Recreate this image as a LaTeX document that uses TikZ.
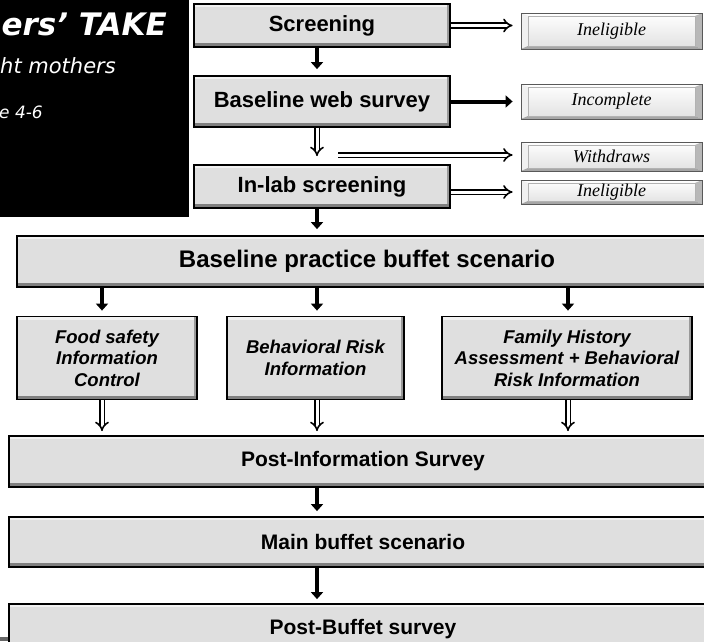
\documentclass[tikz,border=0pt]{standalone}
\usepackage{fontspec}
\setmainfont{Liberation Sans}
\newfontfamily\outfont{Liberation Serif}
\newfontfamily\slidefont{DejaVu Sans}
\usetikzlibrary{arrows.meta}

\definecolor{boxgray}{RGB}{223,223,223}

\tikzset{
    stage/.style={draw=black, line width=1.8pt, fill=boxgray, inner sep=0pt, align=center,
        font=\bfseries\fontsize{21}{25}\selectfont,
        path picture={
            \fill[white!55!boxgray] (path picture bounding box.north west) rectangle ([yshift=-3pt]path picture bounding box.north east);
            \fill[black!40] ([xshift=-3.5pt]path picture bounding box.south east) rectangle (path picture bounding box.north east);
            \fill[black!50] (path picture bounding box.south west) rectangle ([yshift=4pt]path picture bounding box.south east);
        }},
    topstage/.style={stage, minimum width=256pt, font=\bfseries\fontsize{22}{26}\selectfont},
    arm/.style={stage, minimum height=83pt, font=\bfseries\itshape\fontsize{18.5}{21.5}\selectfont},
    outcome/.style={draw=black!65, line width=0.8pt, top color=white, bottom color=black!12,
        minimum width=181pt, inner sep=0pt, font=\outfont\itshape\fontsize{18}{20}\selectfont,
        path picture={
            \fill[black!6] (path picture bounding box.north west) -- ([shift={(7pt,-3pt)}]path picture bounding box.north west)
                -- ([shift={(7pt,3pt)}]path picture bounding box.south west) -- (path picture bounding box.south west) -- cycle;
            \fill[black!28] (path picture bounding box.north east) -- ([shift={(-7pt,-3pt)}]path picture bounding box.north east)
                -- ([shift={(-7pt,3pt)}]path picture bounding box.south east) -- (path picture bounding box.south east) -- cycle;
            \fill[black!35] (path picture bounding box.south west) -- ([shift={(7pt,3pt)}]path picture bounding box.south west)
                -- ([shift={(-7pt,3pt)}]path picture bounding box.south east) -- (path picture bounding box.south east) -- cycle;
            \draw[black!30, line width=0.4pt] ([shift={(7pt,-3pt)}]path picture bounding box.north west)
                rectangle ([shift={(-7pt,3pt)}]path picture bounding box.south east);
        }},
    solidarrow/.style={line width=4pt, -{Triangle[width=12pt,length=7pt]}},
    hollowarrow/.style={double, double distance=3pt, line width=1.6pt, -{Implies}},
}

\begin{document}
\begin{tikzpicture}[x=1pt, y=-1pt]

\useasboundingbox (0,0) rectangle (704,641);
\clip (0,0) rectangle (704,641);

% slide title panel
\fill[black] (0,0) rectangle (189,217);
\node[anchor=base east, inner sep=0pt, text=white, font=\slidefont\bfseries\itshape\fontsize{31}{36}\selectfont]
    (title) at (167,35) {ers’ TAKE};
\node[anchor=base east, inner sep=0pt, text=white, font=\slidefont\itshape\fontsize{21}{25}\selectfont]
    (mothers) at (116,73) {ht mothers};
\node[anchor=base east, inner sep=0pt, text=white, font=\slidefont\itshape\fontsize{17}{21}\selectfont]
    (age) at (43,118) {e 4-6};
\fill[black!60] (0,637) rectangle (10,641);

% lanes
\coordinate (laneA) at (102,0);
\coordinate (laneB) at (317,0);
\coordinate (laneC) at (568,0);

% recruitment
\node[topstage, minimum height=43pt] (screen)    at (322,25.5)  {Screening};
\node[topstage, minimum height=51pt] (websurvey) at (322,101.5) {Baseline web survey};
\node[topstage, minimum height=43pt] (inlab)     at (322,186.5) {In-lab screening};

% exclusions
\node[outcome, minimum height=36pt] (inelA)    at (611.5,31)    {Ineligible};
\node[outcome, minimum height=35pt] (incompl)  at (611.5,101.5) {Incomplete};
\node[outcome, minimum height=29pt] (withdraw) at (611.5,156.5) {Withdraws};
\node[outcome, minimum height=24pt] (inelB)    at (611.5,192)   {Ineligible};
\coordinate (leave) at (338,155);

% study
\node[stage, minimum width=700pt, minimum height=51pt, font=\bfseries\fontsize{24}{28}\selectfont]
    (practice) at (367,261.5) {Baseline practice buffet scenario};
\node[arm, minimum width=180pt] (food)   at (107,358)   {Food safety\\Information\\Control};
\node[arm, minimum width=177pt] (behav)  at (315.5,358) {Behavioral Risk\\Information};
\node[arm, minimum width=250pt] (family) at (567,358)   {Family History\\Assessment + Behavioral\\Risk Information};
\node[stage, minimum width=708pt, minimum height=51pt] (postinfo)   at (363,461.5) {Post-Information Survey};
\node[stage, minimum width=708pt, minimum height=50pt] (mainbuffet) at (363,542)   {Main buffet scenario};
\node[stage, minimum width=708pt, minimum height=51pt] (postbuffet) at (363,629.5) {Post-Buffet survey};

% arrows
\begin{scope}[solidarrow]
    \draw[shorten >=6pt] (laneB |- screen.south) -- (laneB |- websurvey.north);
    \draw[shorten >=6pt] (laneB |- inlab.south) -- (laneB |- practice.north);
    \draw[shorten >=8pt] (websurvey.east) -- (websurvey.east -| incompl.west);
    \draw[shorten >=5pt] (laneA |- practice.south) -- (laneA |- food.north);
    \draw[shorten >=5pt] (laneB |- practice.south) -- (laneB |- behav.north);
    \draw[shorten >=5pt] (laneC |- practice.south) -- (laneC |- family.north);
    \draw[shorten >=5pt] (laneB |- postinfo.south) -- (laneB |- mainbuffet.north);
    \draw[shorten >=4pt] (laneB |- mainbuffet.south) -- (laneB |- postbuffet.north);
\end{scope}

% double arrows
\draw[hollowarrow, shorten >=8pt] (screen.east) -- (screen.east -| inelA.west);
\draw[hollowarrow, shorten >=8pt] (laneB |- websurvey.south) -- (laneB |- inlab.north);
\draw[hollowarrow, shorten >=8pt] (leave) -- (leave -| withdraw.west);
\draw[hollowarrow, shorten >=8pt] (inelB.west -| inlab.east) -- (inelB.west);
\draw[hollowarrow, shorten >=4pt] (laneA |- food.south) -- (laneA |- postinfo.north);
\draw[hollowarrow, shorten >=4pt] (laneB |- behav.south) -- (laneB |- postinfo.north);
\draw[hollowarrow, shorten >=4pt] (laneC |- family.south) -- (laneC |- postinfo.north);

\end{tikzpicture}
\end{document}
